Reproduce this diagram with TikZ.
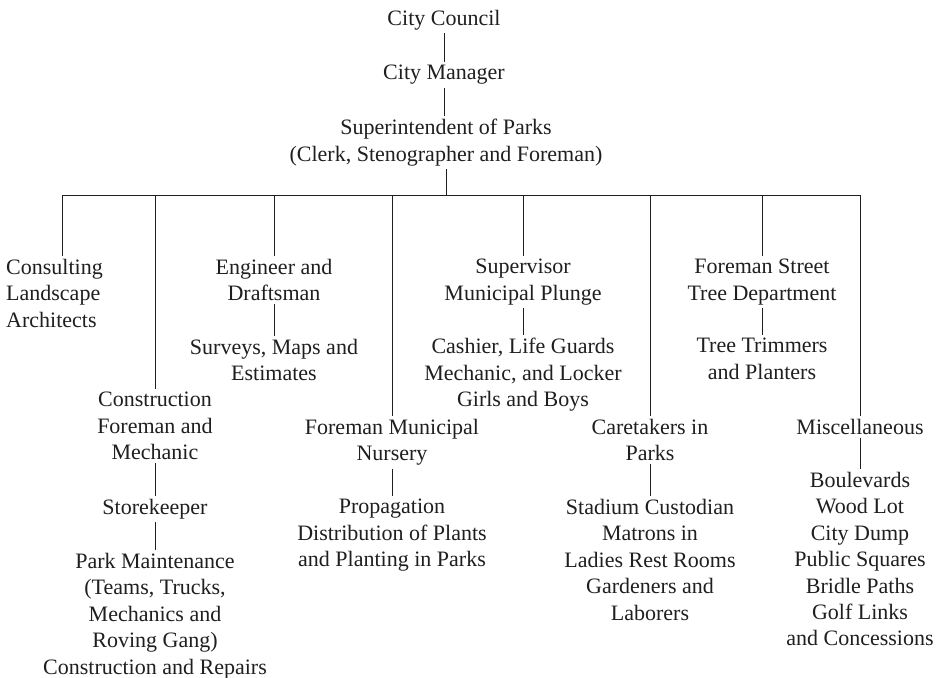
\documentclass[tikz,border=0pt]{standalone}
\usepackage{fontspec}
\setmainfont{Liberation Serif}
\definecolor{ink}{gray}{0.12}
\begin{document}
\begin{tikzpicture}[x=1pt,y=-1pt,
  lbl/.style={anchor=north, align=center, inner xsep=0pt, inner ysep=3pt,
              text=ink, font=\fontsize{22}{26.4}\selectfont},
  link/.style={draw=ink, line width=0.8pt}]
\fill[white] (0,0) rectangle (938,678);
\useasboundingbox (0,0) rectangle (938,678);

% top of the hierarchy
\node[lbl] (council) at (444,7) {City Council};
\node[lbl] (manager) at (444,62) {City Manager};
\node[lbl] (super) at (446,116) {Superintendent of Parks\\(Clerk, Stenographer and Foreman)};
\coordinate (bar) at (0,195);

% departments
\node[lbl, align=left, anchor=north west] (consult) at (6,256) {Consulting\\Landscape\\Architects};
\node[lbl] (construct) at (155,389) {Construction\\Foreman and\\Mechanic};
\node[lbl] (engineer) at (274,256) {Engineer and\\Draftsman};
\node[lbl] (nursery) at (392,416) {Foreman Municipal\\Nursery};
\node[lbl] (plunge) at (523,256) {Supervisor\\Municipal Plunge};
\node[lbl] (caretakers) at (650,416) {Caretakers in\\Parks};
\node[lbl] (street) at (762,256) {Foreman Street\\Tree Department};
\node[lbl] (misc) at (860,416) {Miscellaneous};

% subordinate staff
\node[lbl] (surveys) at (274,336) {Surveys, Maps and\\Estimates};
\node[lbl] (cashier) at (523,335) {Cashier, Life Guards\\Mechanic, and Locker\\Girls and Boys};
\node[lbl] (trimmers) at (762,335) {Tree Trimmers\\and Planters};
\node[lbl] (store) at (155,496) {Storekeeper};
\node[lbl] (maint) at (155,550) {Park Maintenance\\(Teams, Trucks,\\Mechanics and\\Roving Gang)\\Construction and Repairs};
\node[lbl] (propag) at (392,496) {Propagation\\Distribution of Plants\\and Planting in Parks};
\node[lbl] (stadium) at (650,496) {Stadium Custodian\\Matrons in\\Ladies Rest Rooms\\Gardeners and\\Laborers};
\node[lbl] (boulevards) at (860,469) {Boulevards\\Wood Lot\\City Dump\\Public Squares\\Bridle Paths\\Golf Links\\and Concessions};

% chain of command
\draw[link] (council) -- (manager);
\draw[link] (manager.south) -- (manager.south |- super.north);
\draw[link] (super.south) -- (super.south |- bar);
\coordinate (consultdrop) at ([xshift=8pt]consult.north);
\draw[link] (consultdrop |- bar) -- (misc.north |- bar);
\draw[link] (consultdrop |- bar) -- (consultdrop);
\foreach \n in {construct,engineer,nursery,plunge,caretakers,street,misc}
  \draw[link] (\n.north |- bar) -- (\n.north);

\draw[link] (engineer) -- (surveys);
\draw[link] (plunge) -- (cashier);
\draw[link] (street) -- (trimmers);
\draw[link] (construct) -- (store);
\draw[link] (store) -- (maint);
\draw[link] (nursery) -- (propag);
\draw[link] (caretakers) -- (stadium);
\draw[link] (misc) -- (boulevards);
\end{tikzpicture}
\end{document}
